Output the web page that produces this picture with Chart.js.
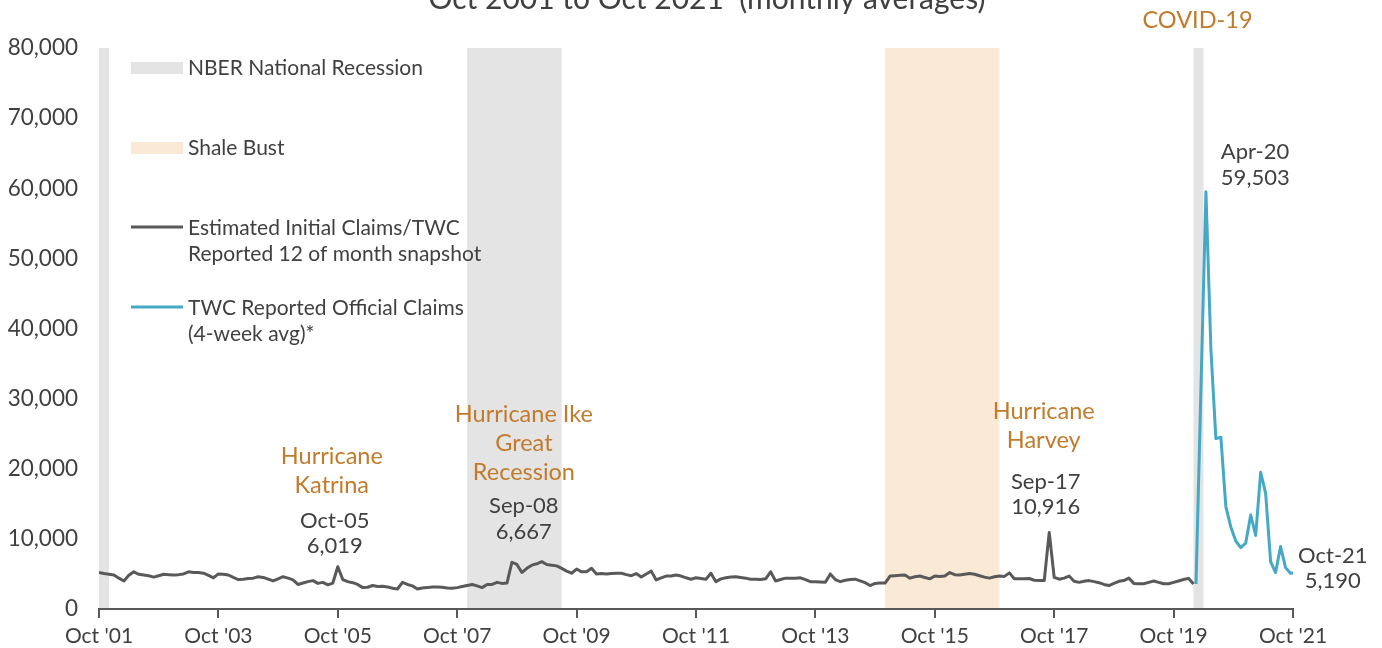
<!DOCTYPE html>
<html>
<head>
<meta charset="utf-8">
<script src="https://cdn.jsdelivr.net/npm/chart.js@4"></script>
<style>
  html, body { margin: 0; padding: 0; background: #fff; }
  .wrap { width: 1382px; height: 648px; position: relative; }
</style>
</head>
<body>
<div class="wrap"><canvas id="chart" width="1382" height="648"></canvas></div>
<script>
// x axis: month index, 0 = Oct 2001 ... 240 = Oct 2021
const xTickLabels = ["Oct '01", "Oct '03", "Oct '05", "Oct '07", "Oct '09", "Oct '11",
	"Oct '13", "Oct '15", "Oct '17", "Oct '19", "Oct '21"];
const yMax = 80000;
const yStep = 10000;

// Estimated initial claims, Oct 2001 - Feb 2020 (one row per Oct-Sep year)
const estimatedClaims = [
	5200, 5050, 4950, 4850, 4400, 4000, 4800, 5300, 4950, 4850, 4750, 4550,
	4750, 4950, 4900, 4850, 4900, 5000, 5300, 5200, 5200, 5100, 4800, 4450,
	5000, 4950, 4850, 4500, 4200, 4250, 4350, 4400, 4600, 4500, 4250, 4000,
	4300, 4600, 4400, 4150, 3500, 3700, 3900, 4050, 3650, 3800, 3450, 3700,
	6019, 4200, 3900, 3750, 3500, 3050, 3100, 3350, 3200, 3250, 3150, 2950,
	2850, 3800, 3500, 3300, 2850, 3000, 3050, 3150, 3150, 3100, 3000, 2950,
	3050, 3200, 3350, 3500, 3300, 3050, 3500, 3500, 3800, 3650, 3700, 6667,
	6350, 5200, 5800, 6250, 6450, 6750, 6350, 6250, 6150, 5800, 5400, 5100,
	5700, 5300, 5300, 5800, 5000, 5050, 5000, 5050, 5100, 5100, 4900, 4750,
	5050, 4550, 5000, 5400, 4150, 4450, 4700, 4700, 4850, 4700, 4450, 4250,
	4450, 4350, 4250, 5100, 3900, 4300, 4450, 4550, 4600, 4500, 4400, 4250,
	4250, 4200, 4300, 5300, 4000, 4200, 4400, 4400, 4400, 4450, 4200, 3900,
	3900, 3850, 3800, 5000, 4200, 3900, 4100, 4200, 4250, 4000, 3750, 3350,
	3650, 3700, 3700, 4700, 4750, 4800, 4850, 4400, 4600, 4700, 4500, 4300,
	4700, 4650, 4700, 5200, 4900, 4850, 4950, 5050, 4950, 4750, 4550, 4400,
	4600, 4700, 4650, 5150, 4300, 4300, 4300, 4350, 4100, 4050, 4050, 10916,
	4500, 4250, 4400, 4700, 3950, 3800, 3950, 4050, 3900, 3750, 3500, 3350,
	3650, 3950, 4050, 4400, 3650, 3600, 3600, 3800, 4000, 3800, 3600, 3600,
	3800, 4000, 4200, 4370, 3570
];

// TWC reported official claims (4-week avg), Feb 2020 - Oct 2021
// plotted mid-month (weekly averages)
const officialStart = 220.5;
const officialClaims = [
	3570, 31500, 59503, 37000, 24300, 24500, 14600, 11700, 9700, 8750, 9400,
	13400, 10500, 19500, 16500, 6750, 5200, 8900, 5900, 5100, 5190
];

// shaded periods, in month indexes
const recessionStart = [0, 74, 220];
const recessionEnd = [2, 93, 222];
const shaleStart = 158;
const shaleEnd = 181;

const FONT = "Lato, 'Open Sans', sans-serif";
const DARK = "#404040";
const ORANGE = "#C27B2A";
const GREY_LINE = "#595959";
const BLUE = "#45A9C6";
const REC_FILL = "#E4E4E4";
const SHALE_FILL = "#FAE9D5";

// annotations: anchor month + value for first line
const notes = [
	{ lines: ["Hurricane", "Katrina"], m: 46.8, v: 21800, color: ORANGE, gap: 29, size: 23.5 },
	{ lines: ["Hurricane Ike", "Great", "Recession"], m: 85.4, v: 27800, color: ORANGE, gap: 29, size: 23.5 },
	{ lines: ["Hurricane", "Harvey"], m: 189.9, v: 28200, color: ORANGE, gap: 29, size: 23.5 },
	{ lines: ["COVID-19"], m: 220.8, v: 84000, color: ORANGE, gap: 29, size: 23.5 },
	{ lines: ["Oct-05", "6,019"], m: 47.4, v: 12550, color: DARK, gap: 25, size: 22 },
	{ lines: ["Sep-08", "6,667"], m: 85.4, v: 14700, color: DARK, gap: 26, size: 22 },
	{ lines: ["Sep-17", "10,916"], m: 190.3, v: 18100, color: DARK, gap: 25, size: 22 },
	{ lines: ["Apr-20", "59,503"], m: 225.5, v: 65200, color: DARK, gap: 26, size: 22, align: "left" },
	{ lines: ["Oct-21", "5,190"], m: 248, v: 7560, color: DARK, gap: 25, size: 22 }
];

const toPoints = (arr, start) => arr.map((v, i) => ({ x: start + i, y: v }));

const shades = {
	id: "shades",
	beforeDraw(chart) {
		const { ctx, chartArea, scales } = chart;
		const x = scales.x;
		ctx.save();
		const band = (a, b, color) => {
			const x0 = x.getPixelForValue(a);
			const x1 = x.getPixelForValue(b);
			ctx.fillStyle = color;
			ctx.fillRect(x0, chartArea.top, x1 - x0, chartArea.bottom - chartArea.top);
		};
		recessionStart.forEach((s, i) => band(s, recessionEnd[i], REC_FILL));
		band(shaleStart, shaleEnd, SHALE_FILL);
		ctx.restore();
	},
	afterDraw(chart) {
		const { ctx, scales } = chart;
		const x = scales.x, y = scales.y;
		ctx.save();

		// title, cut by the top edge
		ctx.fillStyle = DARK;
		ctx.textAlign = "center";
		ctx.textBaseline = "alphabetic";
		ctx.font = "30px " + FONT;
		ctx.fillText("Oct 2001 to Oct 2021  (monthly averages)", 707, 9);

		// legend
		ctx.textBaseline = "middle";
		ctx.textAlign = "left";
		ctx.font = "21px " + FONT;
		ctx.fillStyle = REC_FILL;
		ctx.fillRect(131, 62, 52, 12);
		ctx.fillStyle = SHALE_FILL;
		ctx.fillRect(131, 142, 52, 12);
		ctx.lineWidth = 3;
		ctx.strokeStyle = GREY_LINE;
		ctx.beginPath(); ctx.moveTo(131, 227); ctx.lineTo(183, 227); ctx.stroke();
		ctx.strokeStyle = BLUE;
		ctx.beginPath(); ctx.moveTo(131, 307); ctx.lineTo(183, 307); ctx.stroke();
		ctx.fillStyle = DARK;
		ctx.fillText("NBER National Recession", 188, 68);
		ctx.fillText("Shale Bust", 188, 148);
		ctx.fillText("Estimated Initial Claims/TWC", 188, 228);
		ctx.fillText("Reported 12 of month snapshot", 188, 254);
		ctx.fillText("TWC Reported Official Claims", 188, 308);
		ctx.fillText("(4-week avg)*", 188, 334);

		// annotations
		notes.forEach(n => {
			const px = x.getPixelForValue(n.m);
			const py = y.getPixelForValue(n.v);
			ctx.font = n.size + "px " + FONT;
			ctx.fillStyle = n.color;
			ctx.textAlign = n.align || "center";
			n.lines.forEach((t, i) => ctx.fillText(t, px, py + i * n.gap));
		});
		ctx.restore();
	}
};

Chart.defaults.font.family = FONT;
Chart.defaults.color = DARK;

const ctx = document.getElementById("chart").getContext("2d");
const myChart = new Chart(ctx, {
	type: "line",
	data: {
		datasets: [
			{
				label: "Estimated Initial Claims/TWC Reported 12 of month snapshot",
				data: toPoints(estimatedClaims, 0),
				borderColor: GREY_LINE,
				borderWidth: 3,
				borderJoinStyle: "round",
				pointRadius: 0,
				tension: 0,
			},
			{
				label: "TWC Reported Official Claims (4-week avg)*",
				data: toPoints(officialClaims, officialStart),
				borderColor: BLUE,
				borderWidth: 3,
				borderJoinStyle: "round",
				pointRadius: 0,
				tension: 0,
			},
		],
	},
	options: {
		responsive: false,
		animation: false,
		events: [],
		layout: { padding: { top: 48, right: 89, left: 0, bottom: 0 } },
		plugins: {
			legend: { display: false },
			tooltip: { enabled: false },
		},
		scales: {
			x: {
				type: "linear",
				min: 0,
				max: 240,
				afterBuildTicks: (scale) => {
					scale.ticks = xTickLabels.map((_, i) => ({ value: i * 24 }));
				},
				afterFit: (scale) => { scale.height = 39; },
				ticks: {
					autoSkip: false,
					maxRotation: 0,
					padding: 6,
					font: { size: 21 },
					color: DARK,
					callback: (value) => xTickLabels[value / 24],
				},
				grid: {
					drawOnChartArea: false,
					drawTicks: true,
					tickLength: 9,
					color: GREY_LINE,
					lineWidth: 2,
				},
				border: { display: true, color: GREY_LINE, width: 2 },
			},
			y: {
				min: 0,
				max: yMax,
				afterFit: (scale) => { scale.width = 99; },
				ticks: {
					stepSize: yStep,
					padding: 13,
					font: { size: 22.5 },
					color: DARK,
					callback: (value) => value.toLocaleString("en-US"),
				},
				grid: { display: false },
				border: { display: false },
			},
		},
	},
	plugins: [shades],
});
</script>
</body>
</html>
